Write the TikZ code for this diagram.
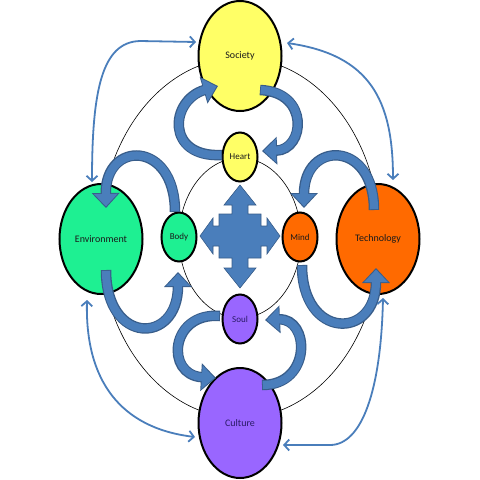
\documentclass[tikz,border=0pt]{standalone}
\usepackage{fontspec}
\setmainfont{Carlito}
\usetikzlibrary{shapes.geometric,arrows.meta,calc}
\definecolor{ylw}{HTML}{FFFF66}
\definecolor{grn}{HTML}{1EF092}
\definecolor{org}{HTML}{FF6A00}
\definecolor{prp}{HTML}{9966FF}
\definecolor{rbdark}{HTML}{385D8A}
\definecolor{rbfill}{HTML}{4A7EBB}
\definecolor{thinblue}{HTML}{4A7EBB}
\definecolor{txt}{HTML}{1A1A1A}
\definecolor{txtp}{HTML}{2A1A66}
\newcommand\myribbon[4]{%
  \draw[ribbonout] #1 .. controls #2 and #3 .. #4;
  \draw[ribbonin] #1 .. controls #2 and #3 .. #4;}
\tikzset{
  bignode/.style={ellipse, draw=black, line width=2pt, minimum width=83pt, minimum height=110pt, inner sep=0pt, text=txt, font=\fontsize{10}{11}\selectfont},
  smallnode/.style={ellipse, draw=black, line width=2pt, minimum width=35pt, minimum height=49pt, inner sep=0pt, text=txt, font=\fontsize{9}{10}\selectfont},
  orbit/.style={draw=black, line width=0.6pt},
  ribbonout/.style={draw=rbdark, line width=10.5pt, -{Triangle[width=27pt,length=15pt,fill=rbdark]}},
  ribbonin/.style={draw=rbfill, line width=8.1pt, shorten >=1.6pt, shorten <=0.8pt, -{Triangle[width=23pt,length=12.5pt,fill=rbfill]}},
  thinarr/.style={draw=thinblue, line width=1.8pt, {Straight Barb[length=5pt,width=11pt]}-{Straight Barb[length=5pt,width=11pt]}},
  quadarrow/.style={fill=rbfill, draw=rbdark, line width=0.6pt, line join=miter}
}
\begin{document}
\begin{tikzpicture}[x=1pt,y=-1pt]
\useasboundingbox[fill=white] (0,0) rectangle (480,480);
% orbits
\draw[orbit] (240,238) ellipse [x radius=140, y radius=180];
\draw[orbit] (240,238) ellipse [x radius=61, y radius=80];
% nodes
\node[bignode, fill=ylw] (society) at (240,56) {Society};
\node[bignode, fill=prp, text=txtp] (culture) at (240,423) {Culture};
\node[bignode, fill=grn] (environment) at (101,239) {Environment};
\node[bignode, fill=org] (technology) at (378,239) {Technology};
\node[smallnode, fill=ylw] (heart) at (240,157) {Heart};
\node[smallnode, fill=prp, text=txtp] (soul) at (240,319) {Soul};
\node[smallnode, fill=grn] (body) at (179,237) {Body};
\node[smallnode, fill=org] (mind) at (300,237) {Mind};
% central quad arrow
\draw[quadarrow] (240,185) -- (256,205) -- (248,205) -- (248,214) -- (261,214) -- (261,226)
  -- (267,226) -- (267,218) -- (280,236) -- (267,254) -- (267,246) -- (261,246) -- (261,258)
  -- (248,258) -- (248,268) -- (256,268) -- (240,288) -- (224,268) -- (232,268) -- (232,258)
  -- (219,258) -- (219,246) -- (213,246) -- (213,254) -- (200,236) -- (213,218) -- (213,226)
  -- (219,226) -- (219,214) -- (232,214) -- (232,205) -- (224,205) -- cycle;
% ribbons
\myribbon{($(heart)+(-18,-2)$)}{(165,158)}{(170,100)}{($(society)+(-22,30)$)}
\myribbon{($(society)+(20,34)$)}{(310,92)}{(305,150)}{($(heart)+(22,-6)$)}
\myribbon{($(soul)+(-20,-3)$)}{(170,312)}{(165,375)}{($(culture)+(-24,-45)$)}
\myribbon{($(culture)+(22,-38)$)}{(312,385)}{(310,318)}{($(soul)+(25,1)$)}
\myribbon{($(body)+(-4,-25)$)}{(175,140)}{(105,140)}{($(environment)+(5,-31)$)}
\myribbon{($(environment)+(5,31)$)}{(106,345)}{(178,345)}{($(body)+(-1,35)$)}
\myribbon{($(technology)+(-4,-29)$)}{(374,140)}{(304,140)}{($(mind)+(4,-29)$)}
\myribbon{($(mind)+(2,28)$)}{(302,340)}{(376,340)}{($(technology)+(-2,29)$)}
% thin double arrows
\draw[thinarr] ($(society)+(-44,-14)$) -- (140,41) .. controls (102,42) and (92,90) .. ($(environment)+(-9,-57)$);
\draw[thinarr] ($(society)+(47,-13)$) .. controls (370,55) and (393,100) .. ($(technology)+(15,-59)$);
\draw[thinarr] ($(environment)+(-14,61)$) .. controls (85,380) and (120,428) .. ($(culture)+(-45,14)$);
\draw[thinarr] ($(technology)+(5,59)$) .. controls (381,390) and (362,445) .. (330,445) -- ($(culture)+(43,22)$);
\end{tikzpicture}
\end{document}
